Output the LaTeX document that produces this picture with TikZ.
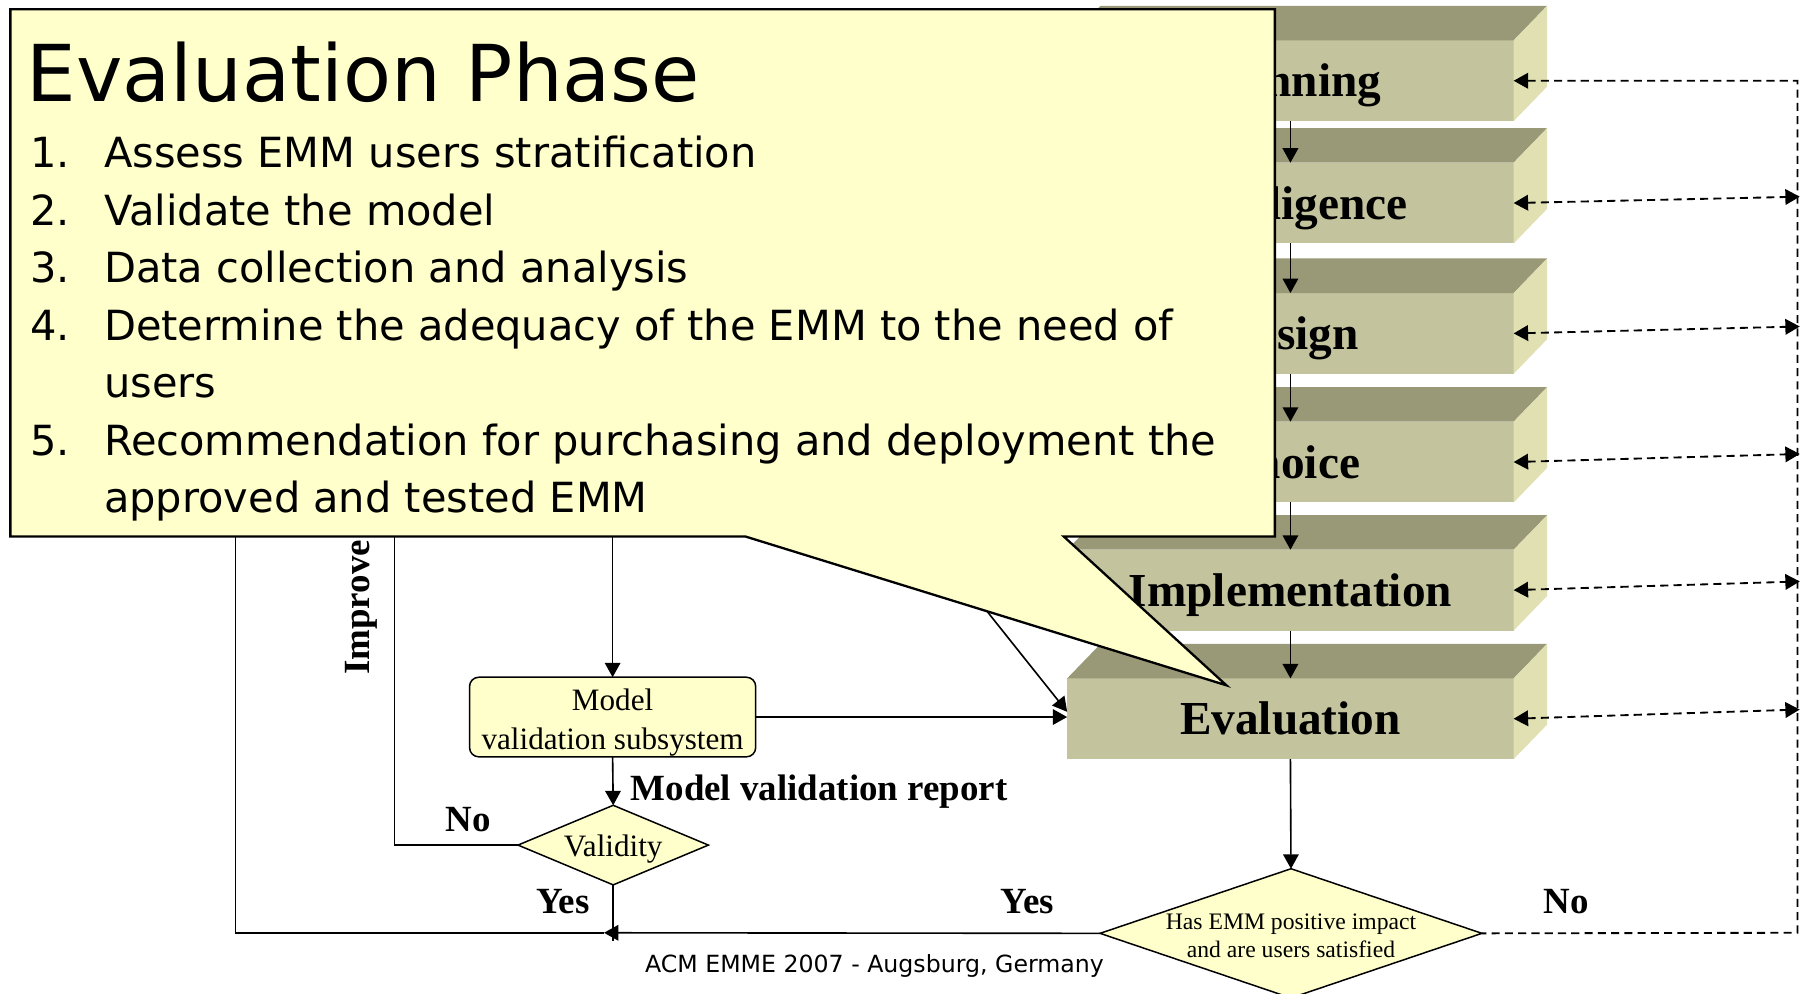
\documentclass[tikz,border=0pt]{standalone}
\usepackage{fontspec}
\setmainfont{Liberation Serif}
\newfontfamily\calfont{DejaVu Sans}
\usetikzlibrary{arrows.meta,shapes.geometric,calc}

\definecolor{notefill}{HTML}{FFFFCC}
\definecolor{blockfront}{HTML}{C3C39D}
\definecolor{blocktop}{HTML}{999877}
\definecolor{blockside}{HTML}{E0E0B3}

\begin{document}
\begin{tikzpicture}[x=1pt,y=-1pt,
  block/.style={rectangle, fill=blockfront, minimum width=387pt, minimum height=70pt,
    inner sep=0pt, outer sep=0pt, text height=30pt, text depth=2pt,
    font=\fontsize{41}{41}\selectfont\bfseries},
  topface/.style={fill=blocktop},
  sideface/.style={fill=blockside},
  tip/.tip={Triangle[length=12.5pt,width=13.5pt]},
  arr/.style={-tip, line width=1.4pt},
  plainline/.style={line width=1.4pt},
  dashline/.style={line width=1.6pt, dash pattern=on 7pt off 4.5pt},
  dashboth/.style={dashline, tip-tip},
  yellowbox/.style={draw, line width=1.3pt, fill=notefill, rounded corners=8pt,
    minimum width=248pt, minimum height=69pt, inner sep=0pt, outer sep=0pt},
  boxtext/.style={inner sep=0pt, align=center, font=\fontsize{27}{34}\selectfont},
  decision/.style={draw, line width=1.3pt, fill=notefill, diamond, inner sep=0pt, outer sep=0pt},
  lbl/.style={inner sep=0pt, font=\fontsize{32}{32}\selectfont\bfseries},
  title/.style={inner sep=0pt, font=\calfont\fontsize{68}{68}\selectfont},
  item/.style={inner sep=0pt, font=\calfont\fontsize{36}{36}\selectfont},
  footer/.style={inner sep=0pt, font=\calfont\fontsize{20.5}{20.5}\selectfont}
]
\useasboundingbox (0,0) rectangle (1568,861);

% ---- phase blocks ----
\node[block] (plan)   at (1118.5,70)    {Planning};
\node[block] (intel)  at (1118.5,176)   {Intelligence};
\node[block] (design) at (1118.5,289)   {Design};
\node[block] (choice) at (1118.5,400.5) {Choice};
\node[block] (impl)   at (1118.5,511.5) {Implementation};
\node[block] (eval)   at (1118.5,623)   {Evaluation};

\foreach \b in {plan,intel,design,choice,impl,eval}{
  \fill[topface] (\b.north west) -- (\b.north east) -- ++(29,-30)
      -- ($(\b.north west)+(29,-30)$) -- cycle;
  \fill[sideface] (\b.north east) -- ++(29,-30)
      -- ($(\b.south east)+(29,-30)$) -- (\b.south east) -- cycle;
}

% ---- phase sequence ----
\draw[arr] (plan.south) -- (intel.north);
\draw[arr] (intel.south) -- (design.north);
\draw[arr] (design.south) -- (choice.north);
\draw[arr] (choice.south) -- (impl.north);
\draw[arr] (impl.south) -- (eval.north);

% ---- decisions and validation ----
\node[decision, minimum width=331pt, minimum height=112pt] (bigd) at (1119,809) {};
\node[inner sep=0pt, align=center, font=\fontsize{20.5}{24.7}\selectfont] (bigdtxt)
  at (1119,811) {Has EMM positive impact\\and are users satisfied};

\node[yellowbox] (model) at (531,621.5) {};
\node[boxtext] (modeltxt) at (531,626.5) {Model\\validation subsystem};
\node[decision, minimum width=165pt, minimum height=69pt] (val) at (531.5,732.5) {};
\node[inner sep=0pt, anchor=base, font=\fontsize{27}{27}\selectfont] (valtxt)
  at (531.5,742) {Validity};

\draw[arr] (eval.south) -- (bigd.north);

% feedback bus on the right
\coordinate (busT) at (1558,70);
\coordinate (busB) at (1558,808.5);
\draw[dashline, tip-] (plan.east) -- (busT) -- (busB) -- (bigd.east);
\draw[dashboth] (intel.east)  -- ($(intel.east -| busT)+(2,-5.5)$);
\draw[dashboth] (design.east) -- ($(design.east -| busT)+(2,-6)$);
\draw[dashboth] (choice.east) -- ($(choice.east -| busT)+(2,-7)$);
\draw[dashboth] (impl.east)   -- ($(impl.east -| busT)+(2,-7.5)$);
\draw[dashboth] (eval.east)   -- ($(eval.east -| busT)+(2,-8)$);

% lines entering from the upper part of the diagram
\coordinate (upA) at (204,400);
\coordinate (upB) at (342,400);
\coordinate (upC) at (531,400);
\coordinate (upD) at (752,400);
\coordinate (join) at (531.5,808.5);

\draw[arr] (upC) -- (model.north);
\draw[arr] (upD) -- ([yshift=6pt]eval.west);
\draw[arr] (model.east) -- (model.east -| eval.west);
\draw[arr] (model.south) -- (val.north);
\draw[plainline] (val.west) -| (upB);
\draw[plainline] (val.south) -- ($(join)+(0,7)$);
\draw[arr] (bigd.west) -- ([xshift=-8pt]join);
\draw[plainline] ([xshift=-8pt]join) -| (upA);

% ---- labels ----
\node[lbl, rotate=90, anchor=base west] (improve) at (320,585) {Improve};
\node[lbl, anchor=base west] (report) at (546.5,693.5) {Model validation report};
\node[lbl, anchor=base west] (noL) at (386,721) {No};
\node[lbl, anchor=base west] (yesL) at (464.4,791.7) {Yes};
\node[lbl, anchor=base west] (yesR) at (867.4,791.7) {Yes};
\node[lbl, anchor=base west] (noR) at (1338,791.7) {No};

\node[footer, anchor=base] (foot) at (758,842.5) {ACM EMME 2007 - Augsburg, Germany};

% ---- callout ----
\draw[line width=2pt, line join=miter, fill=notefill]
  (9,8) -- (1105,8) -- (1105,465) -- (922,465) -- (1063,594) -- (646,465) -- (9,465) -- cycle;

\node[title, anchor=base west] (ttl) at (23,88) {Evaluation Phase};
\node[item, anchor=base west] (n1) at (26,145.5) {1.};
\node[item, anchor=base west] (n2) at (26,195.3) {2.};
\node[item, anchor=base west] (n3) at (26,245.1) {3.};
\node[item, anchor=base west] (n4) at (26,294.9) {4.};
\node[item, anchor=base west] (n5) at (26,394.5) {5.};
\node[item, anchor=base west] (t1) at (90,145.5) {Assess EMM users stratification};
\node[item, anchor=base west] (t2) at (90,195.3) {Validate the model};
\node[item, anchor=base west] (t3) at (90,245.1) {Data collection and analysis};
\node[item, anchor=base west] (t4) at (90,294.9) {Determine the adequacy of the EMM to the need of};
\node[item, anchor=base west] (t4b) at (90,344.7) {users};
\node[item, anchor=base west] (t5) at (90,394.5) {Recommendation for purchasing and deployment the};
\node[item, anchor=base west] (t5b) at (90,444.3) {approved and tested EMM};
\end{tikzpicture}
\end{document}
